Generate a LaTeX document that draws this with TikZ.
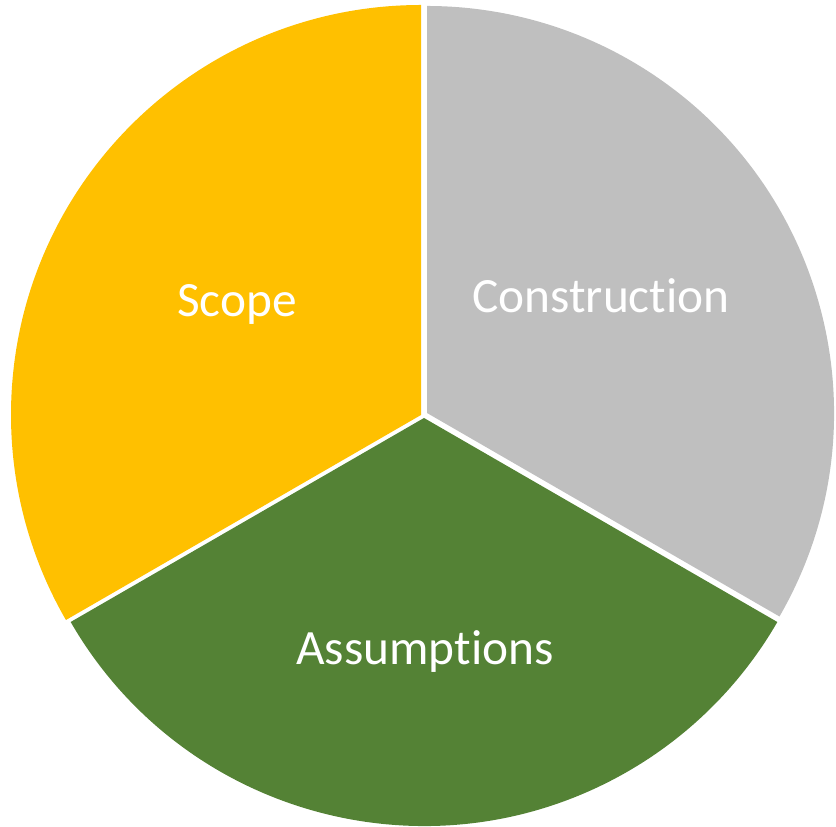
\documentclass[tikz,border=0pt]{standalone}
\usepackage{fontspec}
\setmainfont{Carlito}[Ligatures=NoCommon]
\definecolor{scopeyellow}{HTML}{FFC000}
\definecolor{constrgray}{HTML}{BFBFBF}
\definecolor{assumgreen}{HTML}{548235}

\begin{document}
\begin{tikzpicture}[x=0.75pt,y=0.75pt,slicelabel/.style={text=white,font=\fontsize{37}{44}\selectfont,anchor=base,inner sep=0pt}]
    \useasboundingbox (0,0) rectangle (836,827);
        % slices, each with its own centre
        \fill[scopeyellow] (421,412) -- +(90:410) arc[start angle=90,end angle=210,radius=410] -- cycle;
        \fill[constrgray] (427,414) -- +(-30:407) arc[start angle=-30,end angle=90,radius=407] -- cycle;
        \fill[assumgreen] (424,409) -- +(210:408) arc[start angle=210,end angle=330,radius=408] -- cycle;
        % labels
        \node[slicelabel] (scope) at (237,510) {Scope};
        \node[slicelabel] (construction) at (601,514) {Construction};
        \node[slicelabel] (assumptions) at (425,162) {Assumptions};
    \end{tikzpicture}
\end{document}
